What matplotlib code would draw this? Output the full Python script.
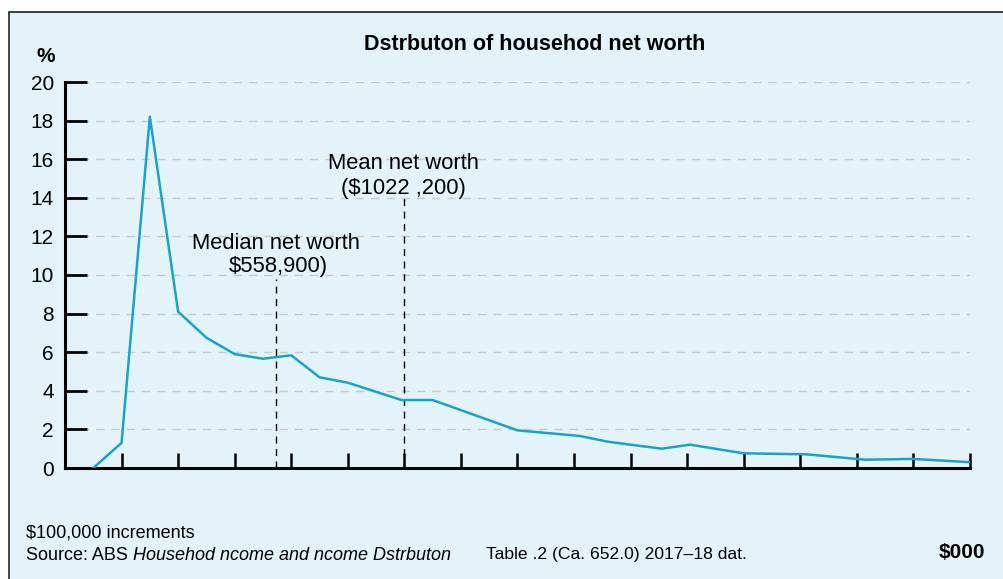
import matplotlib
matplotlib.use("Agg")
import matplotlib.pyplot as plt
from matplotlib.patches import Rectangle

plt.rcParams['font.family'] = ['Liberation Sans', 'DejaVu Sans']

# net worth position (ticks are the chart's increments) and share of households (%)
worth_pos = [0.5, 1.0, 1.5, 2.0, 2.5, 3.0, 3.5, 4.0, 4.5, 5.0, 5.95, 6.5,
             8.0, 9.1, 9.6, 10.55, 11.05, 12.0, 13.1, 14.15, 15.0, 16.0]
share_pct = [0.0, 1.3, 18.2, 8.1, 6.75, 5.9, 5.66, 5.84, 4.7, 4.42, 3.52, 3.52,
             1.95, 1.66, 1.36, 1.0, 1.21, 0.76, 0.71, 0.43, 0.47, 0.30]

yticks = [0, 2, 4, 6, 8, 10, 12, 14, 16, 18, 20]
xticks = list(range(1, 17))

median_pos, median_top = 3.73, 9.8
mean_pos, mean_top = 5.99, 14.0

bg = '#e4f3f9'
line_col = '#1aa3c6'

fig = plt.figure(figsize=(10.04, 5.79), dpi=100)
fig.patch.set_facecolor('white')
fig.patches.append(Rectangle((9 / 1004, -0.05), 1.2, 1 - 12 / 579 + 0.05,
                             transform=fig.transFigure, facecolor=bg,
                             edgecolor='#222222', linewidth=1.2, zorder=-5))

ax = fig.add_axes([65 / 1004, 1 - 468 / 579, (970 - 65) / 1004, (468 - 82) / 579])
ax.set_zorder(2)
ax.set_facecolor('none')
ax.set_xlim(0, 16)
ax.set_ylim(0, 20)

for y in yticks[1:]:
    ax.axhline(y, color='#c9c9c9', lw=1, dashes=(6, 5), zorder=1)

ax.plot(worth_pos, share_pct, color=line_col, lw=1.8, zorder=3)

ax.plot([median_pos, median_pos], [0, median_top], color='black', lw=1, dashes=(5, 4), zorder=2)
ax.plot([mean_pos, mean_pos], [0, mean_top], color='black', lw=1, dashes=(5, 4), zorder=2)

ax.text(median_pos, 11.65, 'Median net worth', ha='center', va='center', fontsize=15.8)
ax.text(median_pos + 0.04, 10.42, '$558,900)', ha='center', va='center', fontsize=15.8)
ax.text(mean_pos, 15.76, 'Mean net worth', ha='center', va='center', fontsize=15.8)
ax.text(mean_pos, 14.47, '($1022 ,200)', ha='center', va='center', fontsize=15.8)

ax.set_yticks(yticks)
ax.set_yticklabels([str(v) for v in yticks], fontsize=15)
ax.set_xticks(xticks)
ax.set_xticklabels([])
ax.tick_params(axis='y', direction='in', length=16, width=2, pad=8)
ax.tick_params(axis='x', direction='in', length=11, width=1.8)
for s in ['top', 'right']:
    ax.spines[s].set_visible(False)
for s in ['left', 'bottom']:
    ax.spines[s].set_linewidth(2.2)

fig.text(0.533, 1 - 44 / 579, 'Dstrbuton of househod net worth', ha='center', va='center',
         fontsize=15.5, fontweight='bold')
fig.text(46 / 1004, 1 - 57 / 579, '%', ha='center', va='center', fontsize=15, fontweight='bold')

fig.text(26 / 1004, 1 - 533 / 579, '$100,000 increments', ha='left', va='center', fontsize=13)
fig.text(26 / 1004, 1 - 555 / 579, 'Source: ABS ', ha='left', va='center', fontsize=13)
fig.text(133 / 1004, 1 - 555 / 579, 'Househod ncome and ncome Dstrbuton', ha='left', va='center',
         fontsize=13, style='italic')
fig.text(486 / 1004, 1 - 555 / 579, 'Table .2 (Ca. 652.0) 2017\u201318 dat.', ha='left', va='center',
         fontsize=12.6)
fig.text(985 / 1004, 1 - 553 / 579, '$000', ha='right', va='center', fontsize=15, fontweight='bold')

fig.savefig('out.png', dpi=100, facecolor=fig.get_facecolor())
